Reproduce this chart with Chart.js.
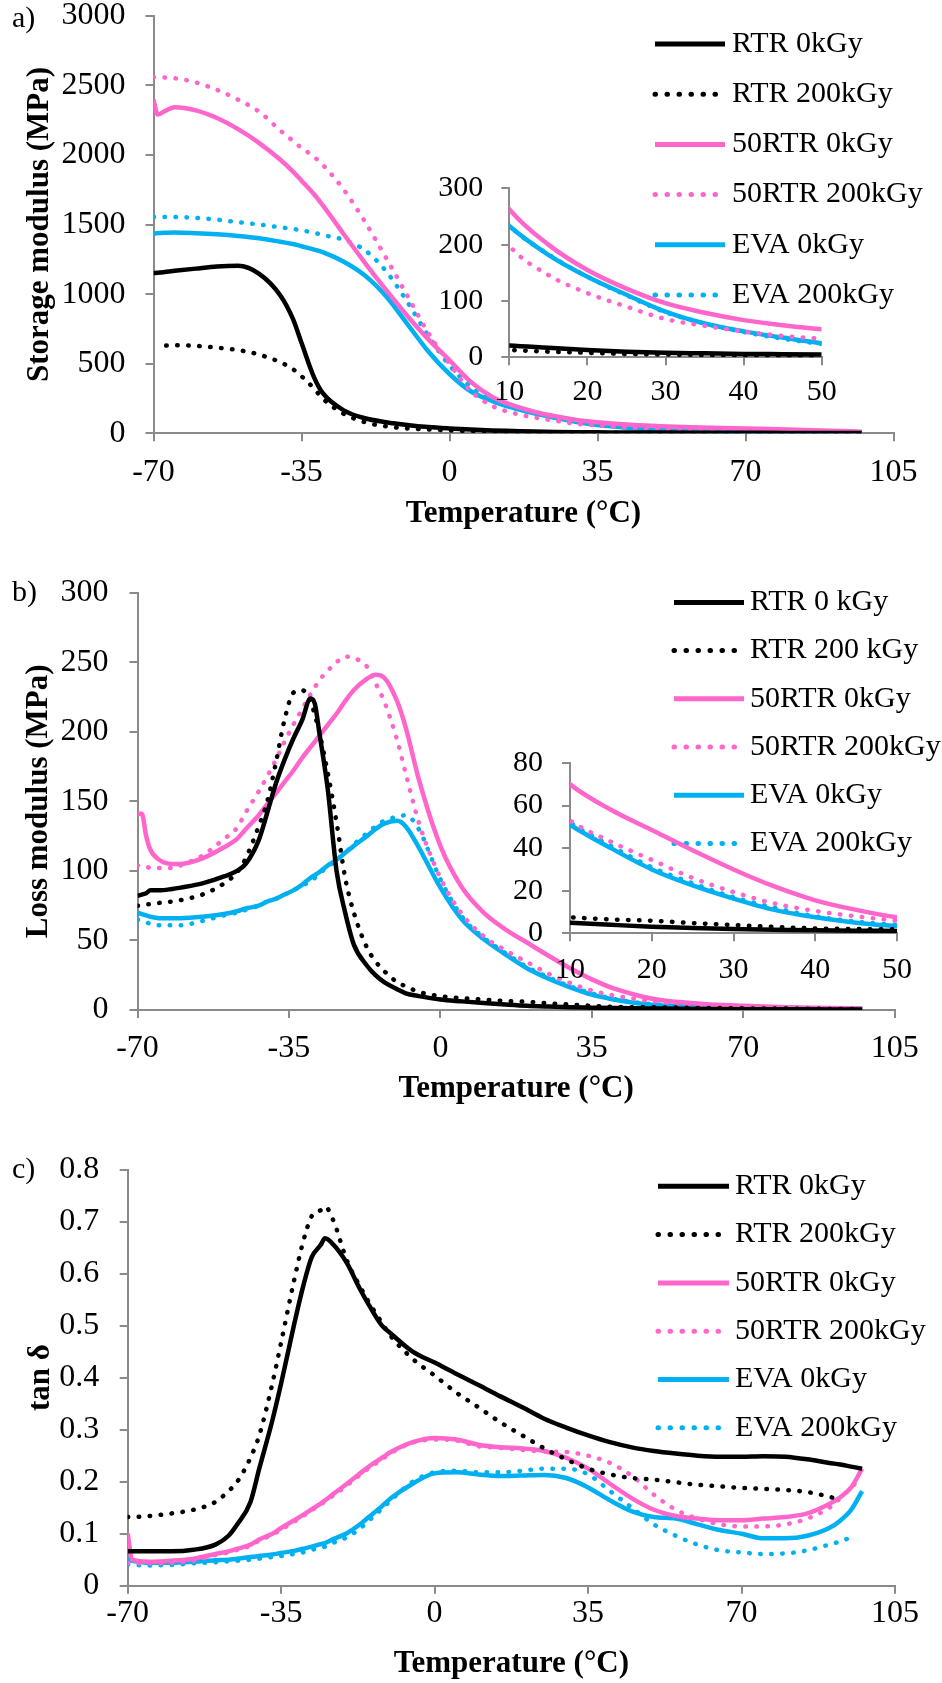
<!DOCTYPE html>
<html>
<head>
<meta charset="utf-8">
<script src="https://cdn.jsdelivr.net/npm/chart.js@4.4.1/dist/chart.umd.min.js"></script>
<style>
  body { margin: 0; background: #fff; width: 942px; height: 1683px; position: relative; }
  canvas { position: absolute; }
</style>
</head>
<body>
<canvas id="chart-a" width="942" height="545" style="left:0;top:0"></canvas>
<canvas id="inset-a" width="440" height="250" style="left:420px;top:160px"></canvas>
<canvas id="chart-b" width="942" height="565" style="left:0;top:545px"></canvas>
<canvas id="inset-b" width="450" height="260" style="left:480px;top:730px"></canvas>
<canvas id="chart-c" width="942" height="573" style="left:0;top:1110px"></canvas>
<script>
// DMA curves: storage modulus (a), loss modulus (b), tan delta (c)

const NAMES = ["RTR 0kGy", "RTR 200kGy", "50RTR 0kGy", "50RTR 200kGy", "EVA 0kGy", "EVA 200kGy"];
const NAMES_B = ["RTR 0 kGy", "RTR 200 kGy", "50RTR 0kGy", "50RTR 200kGy", "EVA 0kGy", "EVA 200kGy"];

// a) storage modulus, MPa
const aTemps = [-70, -69, -67, -65, -60, -55, -50, -45, -40, -37, -35, -32, -30, -25, -20, -15, -10, -5, 0, 5, 10, 15, 20, 25, 30, 35, 40, 45, 50, 60, 70, 80, 90, 97.5];
const aRtr0 = [1150, 1153, 1160, 1167, 1183, 1198, 1203, 1145, 990, 820, 650, 400, 290, 165, 108, 80, 60, 45, 35, 27, 21, 17, 13, 10, 8, 7, 6, 5.5, 5, 4, 3.5, 3, 2.5, 2];
const aRtr200 = [null, null, 630, 632, 628, 615, 598, 565, 510, 460, 410, 320, 250, 140, 80, 50, 35, 27, 21, 16, 13, 10, 8, 6, 5, 4, 3, 2.5, 2, 1.5, 1, 1, 1, 1];
const aMix0 = [2397, 2290, 2320, 2343, 2320, 2265, 2185, 2085, 1965, 1880, 1815, 1715, 1640, 1430, 1225, 1030, 845, 675, 525, 370, 263, 200, 155, 122, 96, 79, 66, 57, 50, 41, 34, 27, 19, 12];
const aMix200 = [2558, 2557, 2555, 2551, 2521, 2467, 2397, 2310, 2175, 2100, 2050, 1985, 1930, 1750, 1520, 1260, 990, 720, 500, 305, 198, 146, 114, 90, 68, 56, 46, 38, 33, 25, 18, 14, 10, 8];
const aEva0 = [1435, 1438, 1441, 1443, 1438, 1430, 1418, 1401, 1376, 1360, 1344, 1320, 1301, 1232, 1133, 984, 786, 588, 426, 302, 233, 182, 143, 111, 81, 60, 46, 35, 25, 14, 9, 7, 6, 5];
const aEva200 = [1554, 1554, 1554, 1554, 1547, 1535, 1517, 1500, 1480, 1468, 1458, 1440, 1425, 1390, 1315, 1165, 945, 700, 488, 335, 235, 183, 143, 110, 80, 60, 45, 33, 24, 14, 10, 8, 7, 6];

// b) loss modulus, MPa
const bTemps = [-70, -69, -68, -67, -65, -62, -60, -55, -50, -47, -45, -42, -40, -38, -36, -34, -32, -30, -29, -28, -26, -24, -22, -20, -17, -15, -13, -10, -8, -5, 0, 5, 10, 15, 20, 25, 30, 35, 40, 45, 50, 60, 70, 80, 90, 97.5];
const bRtr0 = [82, 83, 84, 86, 86, 87, 88, 91, 96, 100, 105, 122, 142, 163, 180, 195, 208, 224, 220, 200, 158, 100, 70, 47, 32, 25, 20, 15, 12, 10, 7.5, 6.2, 5, 4, 3.1, 2.5, 2, 1.7, 1.4, 1.2, 1.1, 0.8, 0.6, 0.5, 0.4, 0.3];
const bRtr200 = [75, 75, 76, 76, 77, 78, 79, 83, 91, 99, 109, 132, 150, 178, 209, 228, 230, 222, 212, 200, 170, 135, 95, 70, 45, 35, 28, 20, 17, 13, 10, 8.5, 7.5, 6.5, 5.9, 4.8, 3.9, 3, 2.3, 2, 1.9, 1.5, 1.2, 1, 0.8, 0.6];
const bMix0 = [141, 141, 125, 115, 108, 105, 105, 109, 117, 123, 130, 140, 148, 156, 164, 172, 181, 189, 193, 197, 205, 213, 222, 230, 238, 241, 239, 222, 203, 166, 118, 88, 70, 58, 48.5, 39, 30, 22, 15.5, 11, 7.5, 4.5, 3, 2, 1.5, 1];
const bMix200 = [104, 103, 103, 102, 102, 102, 104, 111, 123, 131, 142, 157, 168, 180, 193, 205, 216, 227, 232, 237, 244, 250, 254, 253, 247, 235, 222, 194, 170, 135, 95, 69, 53, 43, 34.5, 26, 19.4, 14, 10.5, 8, 6, 3.5, 2.2, 1.5, 1.2, 1];
const bEva0 = [70, 69, 68, 67, 66, 66, 66, 67, 69, 71, 73, 75, 78, 80, 83, 86, 90, 95, 97, 99, 104, 108, 113, 118, 125, 130, 134, 136, 132, 117, 88, 65, 51, 40, 30, 22.5, 16.3, 11, 7.5, 5, 3.4, 2, 1.5, 1.2, 1, 1];
const bEva200 = [65, 64, 63, 62, 61, 61, 61, 64, 68, 70, 72, 75, 78, 80, 83, 86, 89, 93, 95, 98, 103, 108, 113, 119, 127, 132, 136, 139, 140, 130, 94, 67, 52, 41, 31, 23.5, 17, 12, 8, 5.5, 4, 2.2, 1.6, 1.3, 1.1, 1];

// c) tan delta
const cTemps = [-70, -69, -65, -60, -55, -50, -47, -45, -42, -40, -37, -35, -32, -30, -28, -26, -25, -23, -20, -17, -15, -12, -10, -5, 0, 5, 10, 15, 20, 25, 30, 35, 40, 45, 50, 55, 60, 65, 70, 75, 80, 85, 90, 92.5, 95, 97.5];
const cRtr0 = [0.066, 0.066, 0.066, 0.066, 0.069, 0.079, 0.096, 0.118, 0.161, 0.225, 0.318, 0.389, 0.504, 0.575, 0.632, 0.655, 0.668, 0.655, 0.62, 0.57, 0.54, 0.5, 0.485, 0.45, 0.429, 0.407, 0.386, 0.364, 0.343, 0.321, 0.304, 0.289, 0.276, 0.266, 0.259, 0.254, 0.25, 0.248, 0.248, 0.249, 0.248, 0.243, 0.236, 0.233, 0.229, 0.225];
const cRtr200 = [0.132, 0.132, 0.134, 0.139, 0.146, 0.161, 0.182, 0.2, 0.246, 0.289, 0.389, 0.468, 0.589, 0.661, 0.711, 0.722, 0.729, 0.7, 0.625, 0.575, 0.545, 0.505, 0.48, 0.436, 0.404, 0.371, 0.343, 0.314, 0.289, 0.264, 0.243, 0.225, 0.214, 0.207, 0.204, 0.199, 0.194, 0.191, 0.188, 0.186, 0.184, 0.18, 0.171, 0.165, null, null];
const cMix0 = [0.1, 0.05, 0.046, 0.048, 0.052, 0.061, 0.066, 0.071, 0.079, 0.089, 0.1, 0.111, 0.126, 0.136, 0.147, 0.158, 0.164, 0.177, 0.196, 0.216, 0.229, 0.246, 0.257, 0.276, 0.284, 0.281, 0.271, 0.266, 0.264, 0.259, 0.246, 0.225, 0.196, 0.168, 0.146, 0.134, 0.129, 0.126, 0.126, 0.129, 0.132, 0.139, 0.157, 0.17, 0.189, 0.225];
const cMix200 = [0.043, 0.043, 0.043, 0.044, 0.048, 0.059, 0.064, 0.069, 0.077, 0.087, 0.098, 0.108, 0.123, 0.134, 0.145, 0.156, 0.162, 0.174, 0.193, 0.213, 0.226, 0.243, 0.255, 0.275, 0.281, 0.279, 0.268, 0.265, 0.261, 0.258, 0.257, 0.25, 0.236, 0.211, 0.175, 0.146, 0.129, 0.118, 0.114, 0.114, 0.118, 0.129, 0.15, 0.168, 0.189, 0.207];
const cEva0 = [0.05, 0.048, 0.044, 0.044, 0.046, 0.049, 0.05, 0.052, 0.055, 0.057, 0.06, 0.063, 0.067, 0.071, 0.075, 0.08, 0.082, 0.09, 0.101, 0.118, 0.132, 0.153, 0.168, 0.196, 0.216, 0.218, 0.214, 0.211, 0.212, 0.213, 0.207, 0.189, 0.164, 0.143, 0.132, 0.129, 0.118, 0.107, 0.1, 0.091, 0.091, 0.096, 0.111, 0.125, 0.146, 0.182];
const cEva200 = [0.041, 0.04, 0.039, 0.04, 0.043, 0.045, 0.047, 0.048, 0.05, 0.052, 0.055, 0.057, 0.061, 0.064, 0.069, 0.073, 0.075, 0.083, 0.093, 0.11, 0.125, 0.148, 0.164, 0.2, 0.218, 0.221, 0.218, 0.218, 0.221, 0.225, 0.225, 0.214, 0.182, 0.15, 0.118, 0.096, 0.079, 0.068, 0.064, 0.061, 0.062, 0.068, 0.079, 0.085, 0.093, null];

const COLORS = ["#000000", "#000000", "#FF66CC", "#FF66CC", "#00B0F0", "#00B0F0"];
const DOTTED = [false, true, false, true, false, true];
const FONT = "'Liberation Serif', 'Times New Roman', serif";
const AXIS_GRAY = "#8a8a8a";
const DOT_DASH = [0.5, 10.5];

Chart.defaults.font.family = FONT;
Chart.defaults.color = "#000";

function buildDatasets(temps, series, names, clip) {
  return series.map((vals, i) => ({
    label: names[i],
    data: temps.map((t, k) => ({ x: t, y: vals[k] })),
    borderColor: COLORS[i],
    backgroundColor: COLORS[i],
    borderWidth: 4.5,
    borderDash: DOTTED[i] ? DOT_DASH : [],
    borderCapStyle: DOTTED[i] ? "round" : "butt",
    borderJoinStyle: "round",
    pointRadius: 0,
    cubicInterpolationMode: "monotone",
    fill: false,
    clip: clip,
  }));
}

// legend drawn in the plot corner, like the original
const sideLegend = {
  id: "sideLegend",
  afterDraw(chart, args, opts) {
    if (!opts || !opts.show) return;
    const ctx = chart.ctx;
    ctx.save();
    chart.data.datasets.forEach((ds, i) => {
      const y = opts.y0 + i * opts.gap;
      ctx.beginPath();
      ctx.strokeStyle = ds.borderColor;
      ctx.lineWidth = 5;
      ctx.setLineDash(DOTTED[i] ? [0.5, 11.5] : []);
      ctx.lineCap = DOTTED[i] ? "round" : "butt";
      ctx.moveTo(opts.x, y);
      ctx.lineTo(opts.x + opts.len, y);
      ctx.stroke();
      ctx.setLineDash([]);
      ctx.fillStyle = "#000";
      ctx.font = "30px " + FONT;
      ctx.textBaseline = "middle";
      ctx.textAlign = "left";
      ctx.fillText(ds.label, opts.textX, y);
    });
    if (opts.tag) {
      ctx.font = "30px " + FONT;
      ctx.textBaseline = "middle";
      ctx.fillText(opts.tag, opts.tagX, opts.tagY);
    }
    ctx.restore();
  },
};

function fmt(v) {
  return String(Math.round(v * 100) / 100);
}

function axes(o) {
  const grid = { drawOnChartArea: false, drawTicks: true, tickLength: 8, color: AXIS_GRAY, lineWidth: 2 };
  const border = { display: true, color: AXIS_GRAY, width: 2 };
  return {
    x: {
      type: "linear",
      min: o.xMin, max: o.xMax,
      ticks: { stepSize: o.xStep, font: { size: o.tick }, padding: o.xPad, maxRotation: 0, autoSkip: false, callback: fmt },
      grid: { ...grid }, border: { ...border },
      title: o.xTitle
        ? { display: true, text: o.xTitle, font: { size: 31, weight: "bold" }, padding: { top: 0, bottom: o.xTitlePad } }
        : { display: false },
      afterFit: (s) => { s.height = o.xHeight; s.paddingLeft = 0; s.paddingRight = 0; },
    },
    y: {
      min: o.yMin, max: o.yMax,
      ticks: { stepSize: o.yStep, font: { size: o.tick }, padding: o.yPad, callback: fmt },
      grid: { ...grid }, border: { ...border },
      title: o.yTitle
        ? { display: true, text: o.yTitle, font: { size: 31, weight: "bold" }, padding: { top: o.yTitlePad, bottom: 0 } }
        : { display: false },
      afterFit: (s) => { s.width = o.yWidth; s.paddingTop = 0; s.paddingBottom = 0; },
    },
  };
}

function makeChart(id, datasets, o, legend) {
  const el = document.getElementById(id);
  return new Chart(el, {
    type: "line",
    data: { datasets },
    options: {
      responsive: false,
      animation: false,
      events: [],
      layout: { padding: { left: 0, top: o.padTop, right: o.padRight, bottom: 0 } },
      scales: axes(o),
      plugins: {
        legend: { display: false },
        tooltip: { enabled: false },
        sideLegend: legend || { show: false },
      },
    },
    plugins: [sideLegend],
  });
}

// a) storage modulus
makeChart("chart-a",
  buildDatasets(aTemps, [aRtr0, aRtr200, aMix0, aMix200, aEva0, aEva200], NAMES),
  { xMin: -70, xMax: 105, xStep: 35, yMin: 0, yMax: 3000, yStep: 500, tick: 32, xPad: 12, yPad: 20,
    xTitle: "Temperature (°C)", xTitlePad: 12, yTitle: "Storage modulus (MPa)", yTitlePad: 21,
    yWidth: 153.5, xHeight: 111.7, padTop: 15.7, padRight: 48.5 },
  { show: true, x: 655, len: 70, textX: 732, y0: 44, gap: 50.2, tag: "a)", tagX: 12, tagY: 19 });

makeChart("inset-a",
  buildDatasets(aTemps, [aRtr0, aRtr200, aMix0, aMix200, aEva0, aEva200], NAMES, 0),
  { xMin: 10, xMax: 50, xStep: 10, yMin: 0, yMax: 300, yStep: 100, tick: 30, xPad: 9, yPad: 18,
    yWidth: 89.3, xHeight: 52.7, padTop: 28.3, padRight: 38.3 });

// b) loss modulus
makeChart("chart-b",
  buildDatasets(bTemps, [bRtr0, bRtr200, bMix0, bMix200, bEva0, bEva200], NAMES_B),
  { xMin: -70, xMax: 105, xStep: 35, yMin: 0, yMax: 300, yStep: 50, tick: 32, xPad: 11.5, yPad: 21,
    xTitle: "Temperature (°C)", xTitlePad: 2, yTitle: "Loss modulus (MPa)", yTitlePad: 20,
    yWidth: 137.5, xHeight: 100, padTop: 47.7, padRight: 47.3 },
  { show: true, x: 674, len: 70, textX: 750, y0: 57.4, gap: 48.2, tag: "b)", tagX: 12, tagY: 48 });

makeChart("inset-b",
  buildDatasets(bTemps, [bRtr0, bRtr200, bMix0, bMix200, bEva0, bEva200], NAMES_B, 0),
  { xMin: 10, xMax: 50, xStep: 10, yMin: 0, yMax: 80, yStep: 20, tick: 30, xPad: 11, yPad: 19,
    yWidth: 90, xHeight: 56.7, padTop: 33, padRight: 33 });

// c) tan delta
makeChart("chart-c",
  buildDatasets(cTemps, [cRtr0, cRtr200, cMix0, cMix200, cEva0, cEva200], NAMES),
  { xMin: -70, xMax: 105, xStep: 35, yMin: 0, yMax: 0.8, yStep: 0.1, tick: 32, xPad: 1, yPad: 20.5,
    xTitle: "Temperature (°C)", xTitlePad: 0, yTitle: "tan δ", yTitlePad: 22,
    yWidth: 127.7, xHeight: 97.3, padTop: 59.6, padRight: 47 },
  { show: true, x: 658, len: 71, textX: 735, y0: 76.3, gap: 48.3, tag: "c)", tagX: 12, tagY: 60 });
</script>
</body>
</html>
